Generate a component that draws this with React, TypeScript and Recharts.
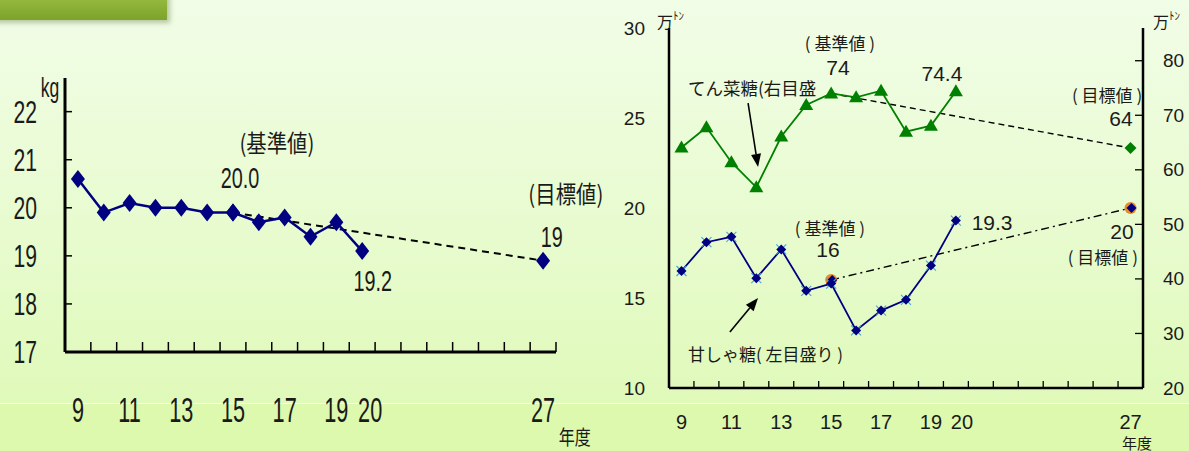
import React from "react";
import { LineChart, Line, XAxis, YAxis, ReferenceDot, ReferenceLine } from "recharts";

// fiscal years (平成), 21-26 are empty
const years = [9, 10, 11, 12, 13, 14, 15, 16, 17, 18, 19, 20, 27];
const yearLabels = [9, 11, 13, 15, 17, 19, 20, 27];
const yearBounds = [8.5, 9.5, 10.5, 11.5, 12.5, 13.5, 14.5, 15.5, 16.5, 17.5, 18.5, 19.5, 20.5, 21.5, 22.5, 23.5, 24.5, 25.5, 26.5, 27.5];

// left chart: kg
const perCapita = [20.6, 19.9, 20.1, 20.0, 20.0, 19.9, 19.9, 19.7, 19.8, 19.4, 19.7, 19.1, null];
const perCapitaGoal = [null, null, null, null, null, null, 19.9, null, null, null, null, null, 18.9];
const kgTicks = [17, 18, 19, 20, 21, 22];

// right chart: 万トン
const beet = [64.1, 67.8, 61.4, 56.8, 66.1, 71.9, 74.0, 73.3, 74.5, 67.0, 68.1, 74.4, null];
const beetGoal = [null, null, null, null, null, null, 74.0, null, null, null, null, null, 64.0];
const cane = [16.5, 18.1, 18.4, 16.1, 17.7, 15.4, 15.8, 13.2, 14.3, 14.9, 16.8, 19.3, null];
const caneGoal = [null, null, null, null, null, null, 16.0, null, null, null, null, null, 20.0];
const caneTicks = [10, 15, 20, 25, 30];
const beetTicks = [20, 30, 40, 50, 60, 70, 80];

const rows = years.map((year, i) => ({
  year,
  perCapita: perCapita[i],
  perCapitaGoal: perCapitaGoal[i],
  beet: beet[i],
  beetGoal: beetGoal[i],
  cane: cane[i],
  caneGoal: caneGoal[i],
}));

const SANS = "'Liberation Sans', Arial, sans-serif";
const JP = "'Noto Sans CJK JP', sans-serif";
const INK = "#1a1a1a";

function Txt({ x, y, text, size = 18, sx = 1, anchor = "middle", family = SANS }: any) {
  return (
    <text
      transform={`translate(${x},${y}) scale(${sx},1)`}
      textAnchor={anchor}
      dominantBaseline="central"
      fontSize={size}
      fontFamily={family}
      fill={INK}
    >
      {text}
    </text>
  );
}

// text placed at data coordinates
function note(key: string, yAxisId: string, x: number, y: number, text: any, opts: any = {}) {
  return (
    <ReferenceDot
      key={key}
      xAxisId="year"
      yAxisId={yAxisId}
      x={x}
      y={y}
      r={0}
      ifOverflow="visible"
      shape={(p: any) => <Txt x={p.cx} y={p.cy} text={text} {...opts} />}
    />
  );
}

function arrowShape(p: any) {
  const { x1, y1, x2, y2 } = p;
  const a = Math.atan2(y2 - y1, x2 - x1);
  const bx = x2 - 13 * Math.cos(a);
  const by = y2 - 13 * Math.sin(a);
  const px = -Math.sin(a) * 5;
  const py = Math.cos(a) * 5;
  return (
    <g>
      <line x1={x1} y1={y1} x2={bx} y2={by} stroke="#000" strokeWidth={1.6} />
      <polygon points={`${x2},${y2} ${bx + px},${by + py} ${bx - px},${by - py}`} fill="#000" />
    </g>
  );
}

function bigDiamond(p: any) {
  const { cx, cy } = p;
  if (cx == null || cy == null) return <g key={p.index} />;
  return (
    <polygon
      key={p.index}
      points={`${cx},${cy - 9} ${cx + 7},${cy} ${cx},${cy + 9} ${cx - 7},${cy}`}
      fill="#000080"
    />
  );
}

function caneDot(p: any) {
  const { cx, cy } = p;
  if (cx == null || cy == null) return <g key={p.index} />;
  return (
    <g key={p.index}>
      <line x1={cx - 5} y1={cy - 5} x2={cx + 5} y2={cy + 5} stroke="#4aa3d8" strokeWidth={1.1} />
      <line x1={cx - 5} y1={cy + 5} x2={cx + 5} y2={cy - 5} stroke="#4aa3d8" strokeWidth={1.1} />
      <polygon points={`${cx},${cy - 5} ${cx + 5},${cy} ${cx},${cy + 5} ${cx - 5},${cy}`} fill="#000080" />
    </g>
  );
}

function caneGoalDot(p: any) {
  const { cx, cy } = p;
  if (cx == null || cy == null) return <g key={p.index} />;
  return (
    <g key={p.index}>
      <circle cx={cx} cy={cy} r={6} fill="#e8892b" />
      <polygon points={`${cx + 1},${cy - 5} ${cx + 6},${cy} ${cx + 1},${cy + 5} ${cx - 4},${cy}`} fill="#000080" />
    </g>
  );
}

function beetDot(p: any) {
  const { cx, cy } = p;
  if (cx == null || cy == null) return <g key={p.index} />;
  return <polygon key={p.index} points={`${cx},${cy - 7} ${cx + 7},${cy + 5} ${cx - 7},${cy + 5}`} fill="#008000" />;
}

function beetGoalDot(p: any) {
  const { cx, cy } = p;
  if (cx == null || cy == null || p.payload.year !== 27) return <g key={p.index} />;
  return <polygon key={p.index} points={`${cx},${cy - 6} ${cx + 6},${cy} ${cx},${cy + 6} ${cx - 6},${cy}`} fill="#008000" />;
}

// the "20" label sits a little right of its slot, clear of "19"
const nudge = (v: number, d: number) => (v === 20 ? d : 0);

const noTick = () => <g />;
const leftXTick = (p: any) => (
  <Txt x={p.x + nudge(p.payload.value, 8)} y={p.y} text={p.payload.value} size={35} sx={0.62} />
);
const leftYTick = (p: any) => <Txt x={p.x} y={p.y} text={p.payload.value} size={32} sx={0.66} anchor="end" />;
const rightXTick = (p: any) => (
  <Txt x={p.x + nudge(p.payload.value, 6)} y={p.y} text={p.payload.value} size={20} />
);
const rightYTickL = (p: any) => <Txt x={p.x} y={p.y} text={p.payload.value} size={19} anchor="end" />;
const rightYTickR = (p: any) => <Txt x={p.x} y={p.y} text={p.payload.value} size={19} anchor="start" />;

const tonUnit = (
  <>
    万<tspan fontSize={11} dy={-6}>ﾄﾝ</tspan>
  </>
);

export default function App() {
  return (
    <div
      style={{
        position: "absolute",
        left: 0,
        top: 0,
        width: 1189,
        height: 451,
        overflow: "hidden",
        background: "linear-gradient(180deg, #f1fde7 0%, #e7fbcd 55%, #ddf9b3 100%)",
      }}
    >
      <div
        style={{
          position: "absolute",
          left: 0,
          top: 403,
          width: 1189,
          height: 48,
          background: "#dcf9ad",
          borderTop: "1px solid rgba(255,255,255,0.85)",
        }}
      />
      <div
        style={{
          position: "absolute",
          left: -10,
          top: -14,
          width: 177,
          height: 34,
          background: "linear-gradient(180deg, #a3c648, #7da32c)",
          boxShadow: "3px 3px 5px rgba(110,130,80,0.45)",
        }}
      />

      {/* left chart */}
      <div style={{ position: "absolute", left: 0, top: 0 }}>
        <LineChart width={618} height={451} data={rows} margin={{ top: 78, right: 62, bottom: 97, left: 0 }}>
          <XAxis
            xAxisId="bounds"
            type="number"
            dataKey="year"
            domain={[8.5, 27.5]}
            ticks={yearBounds}
            interval={0}
            allowDataOverflow
            height={1}
            tick={noTick}
            tickSize={-10}
            axisLine={{ stroke: "#000", strokeWidth: 3 }}
            tickLine={{ stroke: "#000", strokeWidth: 1.5 }}
          />
          <XAxis
            xAxisId="year"
            type="number"
            dataKey="year"
            domain={[8.5, 27.5]}
            ticks={yearLabels}
            interval={0}
            allowDataOverflow
            height={1}
            axisLine={false}
            tickLine={false}
            tickSize={0}
            tickMargin={57}
            tick={leftXTick}
          />
          <YAxis
            yAxisId="kg"
            width={65}
            domain={[17, 22.7]}
            ticks={kgTicks}
            interval={0}
            allowDataOverflow
            tickSize={-7}
            tickMargin={35}
            axisLine={{ stroke: "#000", strokeWidth: 3 }}
            tickLine={{ stroke: "#000", strokeWidth: 1.5 }}
            tick={leftYTick}
          />
          <Line
            xAxisId="year"
            yAxisId="kg"
            dataKey="perCapitaGoal"
            connectNulls
            stroke="#000"
            strokeWidth={2}
            strokeDasharray="7 5"
            dot={bigDiamond}
            isAnimationActive={false}
          />
          <Line
            xAxisId="year"
            yAxisId="kg"
            dataKey="perCapita"
            stroke="#000080"
            strokeWidth={2.5}
            dot={bigDiamond}
            isAnimationActive={false}
          />
          {note("kg", "kg", 7.92, 22.5, "kg", { size: 27, sx: 0.65 })}
          {note("base", "kg", 16.7, 21.38, "(基準値)", { size: 24, sx: 0.85, family: JP })}
          {note("base-v", "kg", 15.27, 20.63, "20.0", { size: 30, sx: 0.66 })}
          {note("last-v", "kg", 20.41, 18.5, "19.2", { size: 30, sx: 0.66 })}
          {note("goal", "kg", 27.88, 20.33, "(目標値)", { size: 24, sx: 0.85, family: JP })}
          {note("goal-v", "kg", 27.34, 19.4, "19", { size: 30, sx: 0.66 })}
          {note("nendo", "kg", 28.23, 15.25, "年度", { size: 20, sx: 0.8, family: JP })}
        </LineChart>
      </div>

      {/* right chart */}
      <div style={{ position: "absolute", left: 600, top: 0 }}>
        <LineChart width={589} height={451} data={rows} margin={{ top: 28, right: 0, bottom: 61, left: 0 }}>
          <XAxis
            xAxisId="bounds"
            type="number"
            dataKey="year"
            domain={[8.5, 27.5]}
            ticks={yearBounds}
            interval={0}
            allowDataOverflow
            height={1}
            tick={noTick}
            tickSize={-7}
            axisLine={{ stroke: "#000", strokeWidth: 2.5 }}
            tickLine={{ stroke: "#000", strokeWidth: 1.3 }}
          />
          <XAxis
            xAxisId="year"
            type="number"
            dataKey="year"
            domain={[8.5, 27.5]}
            ticks={yearLabels}
            interval={0}
            allowDataOverflow
            height={1}
            axisLine={false}
            tickLine={false}
            tickSize={0}
            tickMargin={33}
            tick={rightXTick}
          />
          <YAxis
            yAxisId="l"
            width={69}
            domain={[10, 30]}
            ticks={caneTicks}
            interval={0}
            allowDataOverflow
            tickSize={0}
            tickMargin={24}
            tickLine={false}
            axisLine={{ stroke: "#000", strokeWidth: 2.5 }}
            tick={rightYTickL}
          />
          <YAxis
            yAxisId="r"
            orientation="right"
            width={46}
            domain={[20, 86]}
            ticks={beetTicks}
            interval={0}
            allowDataOverflow
            tickSize={-8}
            tickMargin={28}
            axisLine={{ stroke: "#000", strokeWidth: 2.5 }}
            tickLine={{ stroke: "#000", strokeWidth: 1.3 }}
            tick={rightYTickR}
          />
          <Line
            xAxisId="year"
            yAxisId="r"
            dataKey="beetGoal"
            connectNulls
            stroke="#000"
            strokeWidth={1.4}
            strokeDasharray="6 4"
            dot={beetGoalDot}
            isAnimationActive={false}
          />
          <Line
            xAxisId="year"
            yAxisId="l"
            dataKey="caneGoal"
            connectNulls
            stroke="#000"
            strokeWidth={1.4}
            strokeDasharray="8 4 2 4"
            dot={caneGoalDot}
            isAnimationActive={false}
          />
          <Line
            xAxisId="year"
            yAxisId="r"
            dataKey="beet"
            stroke="#008000"
            strokeWidth={1.8}
            dot={beetDot}
            isAnimationActive={false}
          />
          <Line
            xAxisId="year"
            yAxisId="l"
            dataKey="cane"
            stroke="#000080"
            strokeWidth={1.8}
            dot={caneDot}
            isAnimationActive={false}
          />
          <ReferenceLine
            xAxisId="year"
            yAxisId="l"
            segment={[{ x: 11.67, y: 25.83 }, { x: 12.07, y: 22.28 }]}
            shape={arrowShape}
          />
          <ReferenceLine
            xAxisId="year"
            yAxisId="l"
            segment={[{ x: 10.94, y: 13.11 }, { x: 12.07, y: 15.0 }]}
            shape={arrowShape}
          />
          {note("unit-l", "l", 8.02, 30.4, tonUnit, { size: 16, anchor: "start", family: JP })}
          {note("unit-r", "l", 27.9, 30.4, tonUnit, { size: 16, anchor: "start", family: JP })}
          {note("b-base", "l", 15.35, 29.17, "( 基準値 )", { size: 17, family: JP })}
          {note("b-base-v", "l", 15.27, 27.83, "74", { size: 21 })}
          {note("b-name", "l", 9.26, 26.72, "てん菜糖(右目盛", { size: 17.5, anchor: "start", family: JP })}
          {note("b-last", "l", 19.44, 27.5, "74.4", { size: 21 })}
          {note("b-goal", "l", 26.06, 26.33, "( 目標値 )", { size: 17, family: JP })}
          {note("b-goal-v", "l", 26.62, 25.0, "64", { size: 21 })}
          {note("c-base", "l", 14.95, 18.94, "( 基準値 )", { size: 17, family: JP })}
          {note("c-base-v", "l", 14.87, 17.67, "16", { size: 21 })}
          {note("c-last", "l", 21.45, 19.22, "19.3", { size: 21 })}
          {note("c-goal-v", "l", 26.66, 18.67, "20", { size: 21 })}
          {note("c-goal", "l", 25.89, 17.28, "( 目標値 )", { size: 17, family: JP })}
          {note("c-name", "l", 9.26, 11.89, "甘しゃ糖( 左目盛り )", { size: 17, anchor: "start", family: JP })}
          {note("nendo", "l", 27.26, 7.0, "年度", { size: 15, family: JP })}
        </LineChart>
      </div>
    </div>
  );
}
